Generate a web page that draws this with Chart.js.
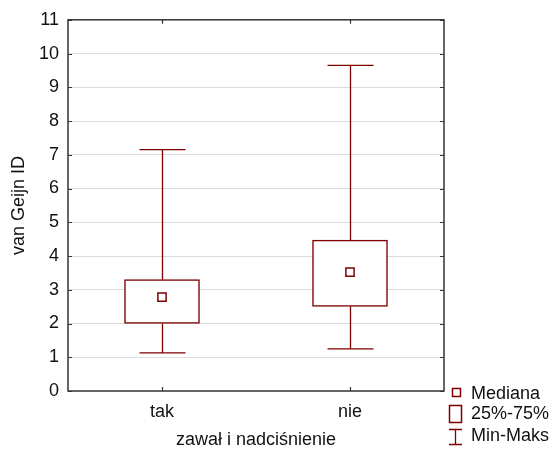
<!DOCTYPE html>
<html>
<head>
<meta charset="utf-8">
<script src="https://cdn.jsdelivr.net/npm/chart.js@4"></script>
<style>
html,body{margin:0;padding:0;background:#fff;}
#wrap{position:relative;width:553px;height:450px;}
</style>
</head>
<body>
<div id="wrap"><canvas id="c" width="553" height="450"></canvas></div>
<script>
// ---- data ----
const categories = ['tak', 'nie'];
const mins    = [1.13, 1.25];
const q1s     = [2.00, 2.51];
const medians = [2.78, 3.52];
const q3s     = [3.30, 4.47];
const maxs    = [7.15, 9.65];
const yTicks  = [0,1,2,3,4,5,6,7,8,9,10,11];
const legendLabels = ['Mediana', '25%-75%', 'Min-Maks'];
const yTitle = 'van Geijn ID';
const xTitle = 'zawał i nadciśnienie';

const MAROON = '#7f0000';
const FONT = 'Liberation Sans, Arial, sans-serif';

const boxPlugin = {
  id: 'boxExtras',
  beforeDatasetsDraw(chart) {
    const {ctx, scales: {x, y}} = chart;
    ctx.save();
    ctx.strokeStyle = MAROON;
    ctx.lineWidth = 1.3;
    const capHalf = 23;
    categories.forEach((c, i) => {
      const px = Math.round(x.getPixelForValue(i)) + 0.5;
      const yMin = y.getPixelForValue(mins[i]);
      const yQ1 = y.getPixelForValue(q1s[i]);
      const yQ3 = y.getPixelForValue(q3s[i]);
      const yMax = y.getPixelForValue(maxs[i]);
      ctx.beginPath();
      ctx.moveTo(px, yMin); ctx.lineTo(px, yQ1);
      ctx.moveTo(px, yQ3); ctx.lineTo(px, yMax);
      ctx.moveTo(px - capHalf, yMin); ctx.lineTo(px + capHalf, yMin);
      ctx.moveTo(px - capHalf, yMax); ctx.lineTo(px + capHalf, yMax);
      ctx.stroke();
    });
    ctx.restore();
  },
  afterDraw(chart) {
    const {ctx, chartArea: a, scales: {x, y}} = chart;
    ctx.save();
    // frame
    ctx.strokeStyle = '#333';
    ctx.lineWidth = 1.5;
    ctx.strokeRect(a.left, a.top, a.right - a.left, a.bottom - a.top);
    // inward ticks
    ctx.beginPath();
    const tl = 4;
    yTicks.forEach(v => {
      const py = Math.round(y.getPixelForValue(v)) + 0.5;
      ctx.moveTo(a.left, py); ctx.lineTo(a.left + tl, py);
      ctx.moveTo(a.right, py); ctx.lineTo(a.right - tl, py);
    });
    categories.forEach((c, i) => {
      const px = Math.round(x.getPixelForValue(i)) + 0.5;
      ctx.moveTo(px, a.top); ctx.lineTo(px, a.top + tl);
      ctx.moveTo(px, a.bottom); ctx.lineTo(px, a.bottom - tl);
    });
    ctx.lineWidth = 1.2;
    ctx.stroke();

    // legend
    const lx = a.right + 4;
    const by = a.bottom;
    ctx.strokeStyle = MAROON;
    ctx.fillStyle = '#fff';
    ctx.lineWidth = 1.5;
    // median marker
    ctx.strokeRect(lx + 4.5, by - 2.5, 8, 8);
    // box marker
    ctx.strokeRect(lx + 1.5, by + 14.5, 12, 17);
    // min-max marker
    ctx.lineWidth = 1.3;
    ctx.beginPath();
    ctx.moveTo(lx + 7.5, by + 38); ctx.lineTo(lx + 7.5, by + 53);
    ctx.moveTo(lx + 1, by + 38.5); ctx.lineTo(lx + 14, by + 38.5);
    ctx.moveTo(lx + 1, by + 53.5); ctx.lineTo(lx + 14, by + 53.5);
    ctx.stroke();
    ctx.fillStyle = '#111';
    ctx.font = '18px ' + FONT;
    ctx.textBaseline = 'middle';
    ctx.textAlign = 'left';
    ctx.fillText(legendLabels[0], lx + 23, by + 3);
    ctx.fillText(legendLabels[1], lx + 23, by + 23);
    ctx.fillText(legendLabels[2], lx + 23, by + 45);
    ctx.restore();
  }
};

new Chart(document.getElementById('c'), {
  type: 'bar',
  data: {
    labels: categories,
    datasets: [
      {
        type: 'line',
        label: 'Mediana',
        data: medians,
        showLine: false,
        pointStyle: 'rect',
        pointRadius: 5.8,
        pointBorderWidth: 1.5,
        pointBackgroundColor: '#fff',
        pointBorderColor: MAROON,
        order: 0
      },
      {
        label: '25%-75%',
        data: categories.map((c, i) => [q1s[i], q3s[i]]),
        backgroundColor: '#fff',
        borderColor: MAROON,
        borderWidth: 1.5,
        borderSkipped: false,
        barThickness: 75,
        order: 1
      }
    ]
  },
  options: {
    responsive: false,
    animation: false,
    devicePixelRatio: 1,
    layout: { padding: { top: 19, right: 109, bottom: 0, left: 0 } },
    plugins: { legend: { display: false }, tooltip: { enabled: false } },
    scales: {
      x: {
        type: 'category',
        offset: true,
        grid: { display: false, drawTicks: false },
        border: { display: false },
        ticks: { color: '#111', font: { family: FONT, size: 18 }, padding: 10 },
        title: { display: true, text: xTitle, color: '#111', font: { family: FONT, size: 18, lineHeight: 1 }, padding: { top: 0, bottom: 1 } },
        afterFit(s) { s.height = 59; }
      },
      y: {
        min: 0, max: 11,
        afterBuildTicks(s) { s.ticks = yTicks.map(v => ({ value: v })); },
        grid: {
          drawTicks: false,
          color: ctx => (ctx.tick && (ctx.tick.value === 0 || ctx.tick.value === 11)) ? 'rgba(0,0,0,0)' : '#dcdcdc',
          lineWidth: 1
        },
        border: { display: false },
        ticks: { color: '#111', font: { family: FONT, size: 18 }, padding: 9 },
        title: { display: true, text: yTitle, color: '#111', font: { family: FONT, size: 18, lineHeight: 1 }, padding: { top: 10, bottom: 0 } },
        afterFit(s) { s.width = 68; }
      }
    }
  },
  plugins: [boxPlugin]
});
</script>
</body>
</html>
